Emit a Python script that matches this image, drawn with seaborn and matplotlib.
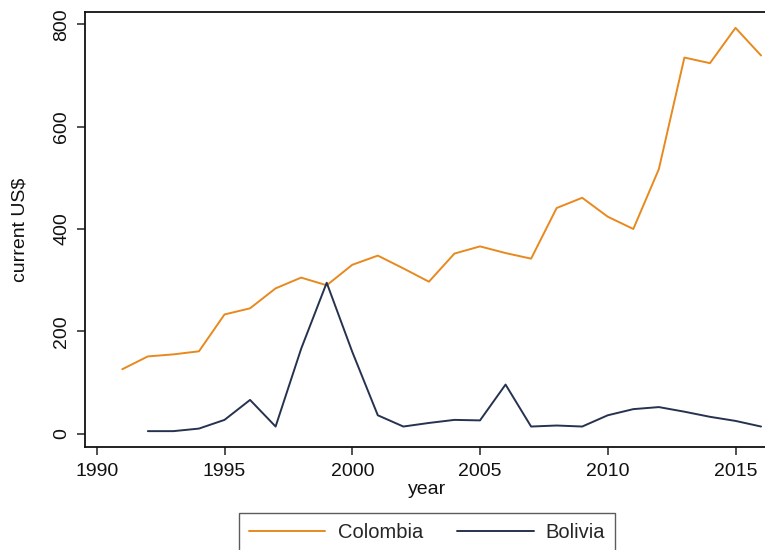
import numpy as np
import pandas as pd
import matplotlib
matplotlib.use("Agg")
import matplotlib.pyplot as plt
import seaborn as sns

# values (current US$)
years = list(range(1991, 2017))
colombia = [126, 151, 155, 161, 233, 245, 284, 305, 290, 330, 348, 323, 297,
            352, 366, 353, 342, 441, 461, 424, 400, 517, 735, 724, 793, 739]
bolivia = [np.nan, 5, 5, 10, 27, 66, 14, 166, 295, 160, 36, 14, 21,
           27, 26, 96, 14, 16, 14, 36, 48, 52, 43, 33, 25, 14]
countries = ["Colombia", "Bolivia"]
colors = ["#E8891E", "#26324F"]

df = pd.DataFrame({"year": years, "Colombia": colombia, "Bolivia": bolivia})
df = df.melt(id_vars="year", var_name="country", value_name="usd").dropna()

sns.set_style("ticks")
plt.rcParams["font.family"] = ["Liberation Sans", "DejaVu Sans"]
fs = 14

fig = plt.figure(figsize=(7.65, 5.5), dpi=100)
W, H = 765, 550
ax = fig.add_axes([85 / W, 1 - 446.7 / H, (770 - 85) / W, (446.7 - 12.3) / H])

sns.lineplot(data=df, x="year", y="usd", hue="country", hue_order=countries,
             palette=colors, linewidth=1.4, ax=ax, legend=False)

ax.set_xlim(1989.54, 1989.54 + (770 - 85) / 25.55)
ax.set_ylim(-25.4, 823.4)
ax.set_xticks([1990, 1995, 2000, 2005, 2010, 2015])
ax.set_yticks([0, 200, 400, 600, 800])
for lab in ax.get_yticklabels():
    lab.set_rotation(90)
    lab.set_va("center")
ax.tick_params(axis="both", length=6, width=1.1, color="#222222",
               labelsize=fs, labelcolor="#111111")
ax.tick_params(axis="y", pad=4.5)
ax.tick_params(axis="x", pad=6)
for s in ax.spines.values():
    s.set_linewidth(1.3)
    s.set_color("#111111")

ax.set_xlabel("year", fontsize=fs, color="#111111")
ax.set_ylabel("current US$", fontsize=fs, color="#111111")
ax.xaxis.set_label_coords((427 - 85) / 685, -(481 - 446.7) / 434.4)
ax.yaxis.set_label_coords((29 - 85) / 685, 0.5)

handles = [plt.Line2D([], [], color=c, lw=1.4) for c in colors]
leg = fig.legend(handles, countries, loc="upper center", ncol=2,
                 bbox_to_anchor=(427 / W, 1 - 513 / H), borderaxespad=0,
                 frameon=True, fancybox=False, handlelength=3.8,
                 handletextpad=0.6, columnspacing=1.7, borderpad=0.5,
                 fontsize=14.5)
leg.get_frame().set_edgecolor("#333333")
leg.get_frame().set_linewidth(1.0)

fig.savefig("out.png", dpi=100)
